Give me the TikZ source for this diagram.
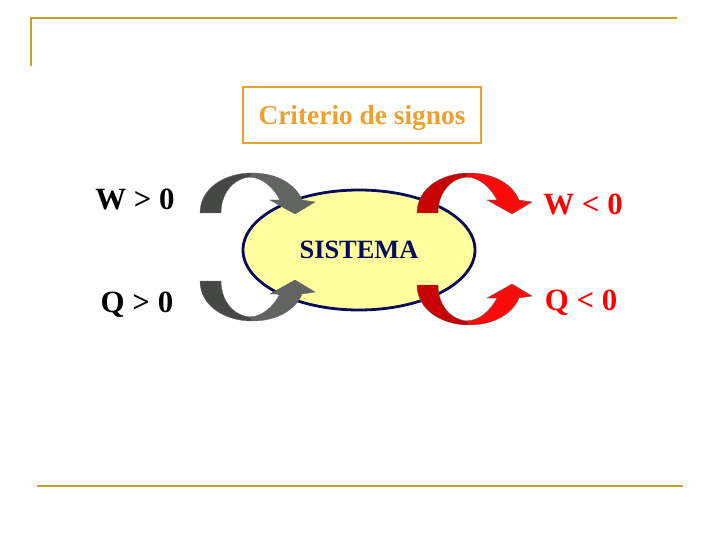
\documentclass[tikz,border=0pt]{standalone}
\usepackage{fontspec}
\setmainfont{Liberation Serif}
\usepackage{tikz}
\usetikzlibrary{shapes.geometric}
\definecolor{slidegold}{RGB}{200,160,40}
\definecolor{titleorange}{RGB}{236,160,48}
\definecolor{sysfill}{RGB}{255,255,160}
\definecolor{sysnavy}{RGB}{10,10,90}
\definecolor{graydark}{RGB}{70,72,70}
\definecolor{graylight}{RGB}{98,100,98}
\definecolor{reddark}{RGB}{200,0,0}
\definecolor{redlight}{RGB}{255,10,10}
\tikzset{
  rule line/.style={
    draw=slidegold,line width=2.7bp
  },
  title box/.style={
    draw=titleorange,line width=2.5bp,
    minimum width=238bp,minimum height=56bp,inner sep=0pt,
    text depth=0pt,
    text=titleorange,font=\fontsize{27.5}{30}\selectfont\bfseries
  },
  system/.style={
    ellipse,draw=sysnavy,fill=sysfill,line width=2.8bp,
    minimum width=232bp,minimum height=120bp,inner sep=0pt,
    text=sysnavy,font=\fontsize{26.5}{28}\selectfont\bfseries
  },
  sign label/.style={
    anchor=base,font=\fontsize{31}{34}\selectfont\bfseries
  },
  band edge/.style={
    draw=black!60,line width=0.4bp
  }
}

\begin{document}
\begin{tikzpicture}[x=1bp,y=-1bp]
  \useasboundingbox (0,0) rectangle (720,540);

  % slide rules
  \draw[rule line] (31,66) -- (31,18) -- (677,18);
  \draw[rule line] (37,486) -- (683,486);

  \node[title box] (criterio) at (362,115) {Criterio de signos};

  \node[system] (sistema) at (359,250) {SISTEMA};

  % bent arrows: x/y of the stub, flip, back and front colour
  \foreach \px/\py/\flip/\cb/\cf in {200/213/1/graydark/graylight,
      200/281/-1/graydark/graylight,
      417/213/1/reddark/redlight,
      417/285/-1/reddark/redlight} {
    \begin{scope}[shift={(\px,\py)},yscale=\flip]
      \filldraw[band edge,fill=\cb] (0,0)
        .. controls (0,-25) and (25,-40) .. (52,-40) -- (52,-36)
        .. controls (35,-36) and (21,-21) .. (21,0) -- cycle;
      \filldraw[band edge,fill=\cf] (52,-40)
        .. controls (78,-40) and (96,-28) .. (102,-13)
        -- (115,-11) -- (95,1) -- (70,-13) -- (80,-13)
        .. controls (73,-26) and (63,-35) .. (50,-36) -- cycle;
    \end{scope}
  }

  \node[sign label] (wpos) at (135,210) {W > 0};
  \node[sign label] (qpos) at (137,312) {Q > 0};
  \node[sign label,text=red] (wneg) at (583,215) {W < 0};
  \node[sign label,text=red] (qneg) at (581,310) {Q < 0};
\end{tikzpicture}
\end{document}
